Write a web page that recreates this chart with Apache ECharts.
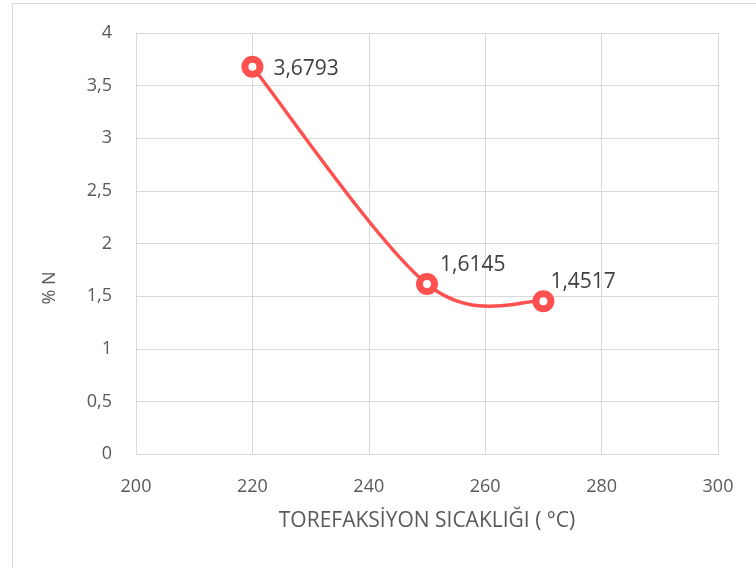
<!DOCTYPE html>
<html><head><meta charset="utf-8">
<script src="https://cdn.jsdelivr.net/npm/echarts@6/dist/echarts.min.js"></script>
<style>html,body{margin:0;padding:0;background:#fff}#c{width:756px;height:568px}</style>
</head><body><div id="c"></div>
<script>
const xValues = [220, 250, 270];
const nValues = [3.6793, 1.6145, 1.4517];
const xTitle = 'TOREFAKSİYON SICAKLIĞI ( °C)';
const yTitle = '% N';
const font = '"Open Sans",sans-serif';
const red = '#ff5050';
const chart = echarts.init(document.getElementById('c'));
const comma = v => String(v).replace('.', ',');
const points = xValues.map((x,i)=>[x, nValues[i]]);
// label placement per point (style only)
const labelStyles = [
  {offset:[-2,2]},
  {offset:[-10,-19]},
  {offset:[-16,-19]}
];
chart.setOption({
  animation: false,
  graphic: [
    {type:'rect', shape:{x:12.5,y:3.5,width:760,height:580}, style:{fill:'none',stroke:'#d9d9d9',lineWidth:1}, z:-1},
    {type:'text', x:50, y:288, rotation:Math.PI/2, style:{text:yTitle, font:'18px "Open Sans",sans-serif', fill:'#595959', textAlign:'center', textVerticalAlign:'middle'}}
  ],
  grid: {left:136, right:38, top:33, bottom:114},
  xAxis: {type:'value', min:200, max:300, interval:20,
    name: xTitle, nameLocation:'middle', nameGap:57,
    nameTextStyle:{fontFamily:font, fontSize:21, color:'#595959'},
    axisLine:{show:true, lineStyle:{color:'#d9d9d9', width:1}}, axisTick:{show:false},
    axisLabel:{fontFamily:font, fontSize:18, color:'#595959', margin:24},
    splitLine:{show:true, lineStyle:{color:'#d9d9d9', width:1}}},
  yAxis: {type:'value', min:0, max:4, interval:0.5,
    axisLine:{show:true, lineStyle:{color:'#d9d9d9', width:1}}, axisTick:{show:false},
    axisLabel:{fontFamily:font, fontSize:18, color:'#595959', margin:24, formatter: comma},
    splitLine:{show:true, lineStyle:{color:'#d9d9d9', width:1}}},
  series: [
    {type:'custom', z:2, data:[0], silent:true,
      renderItem: function(params, api){
        const p = points.map(d => api.coord(d));
        const n = p.length;
        const tan = i => {
          const a = p[Math.max(i-1,0)], b = p[Math.min(i+1,n-1)];
          return [(b[0]-a[0])/6, (b[1]-a[1])/6];
        };
        let d = 'M' + p[0][0] + ' ' + p[0][1];
        for (let i=0;i<n-1;i++){
          const t0 = tan(i), t1 = tan(i+1);
          const c1 = [p[i][0]+t0[0], p[i][1]+t0[1]];
          const c2 = [p[i+1][0]-t1[0], p[i+1][1]-t1[1]];
          d += ' C' + c1[0]+' '+c1[1]+' '+c2[0]+' '+c2[1]+' '+p[i+1][0]+' '+p[i+1][1];
        }
        return {type:'path', shape:{pathData:d}, style:{fill:'none', stroke:red, lineWidth:3.5}};
      }
    },
    {type:'line', z:3, data: points.map((d,i)=>({value:d, label:labelStyles[i]})),
      lineStyle:{width:0, opacity:0},
      symbol:'circle', symbolSize:15,
      itemStyle:{color:'#ffffff', borderColor:red, borderWidth:7},
      label:{show:true, position:'right', distance:12, fontFamily:font, fontSize:21, color:'#404040',
        formatter: p => comma(p.value[1])}
    }
  ]
});
</script></body></html>
